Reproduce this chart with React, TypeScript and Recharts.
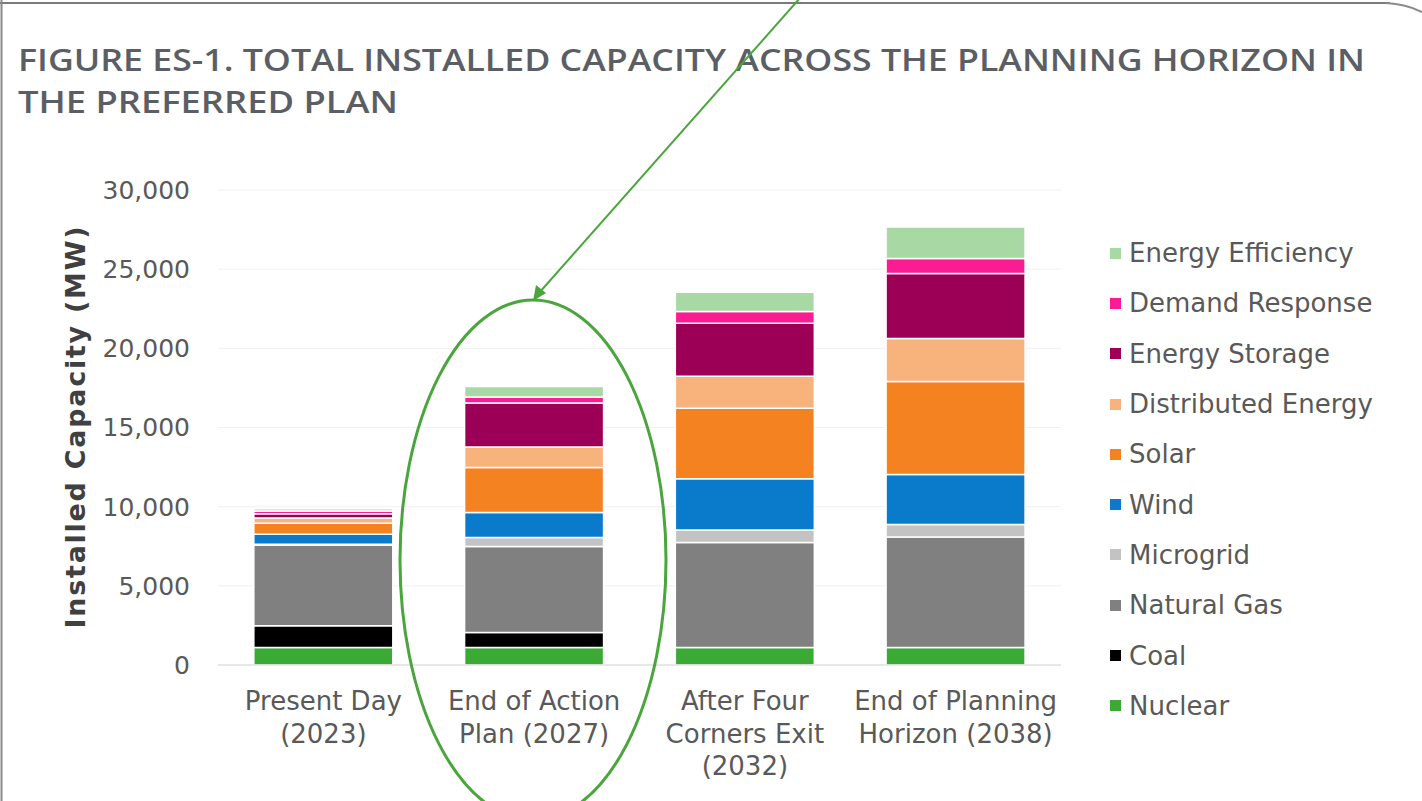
import React from "react";
import {
  Bar,
  BarChart,
  CartesianGrid,
  Legend,
  XAxis,
  YAxis
} from "recharts";

// periods on the x axis and how their labels wrap
const categories = [
  "Present Day (2023)",
  "End of Action Plan (2027)",
  "After Four Corners Exit (2032)",
  "End of Planning Horizon (2038)"
];
const categoryLines = [
  ["Present Day", "(2023)"],
  ["End of Action", "Plan (2027)"],
  ["After Four", "Corners Exit", "(2032)"],
  ["End of Planning", "Horizon (2038)"]
];

// installed capacity in MW
const nuclear = [1100, 1100, 1100, 1100];
const coal = [1380, 950, 0, 0];
const naturalGas = [5100, 5430, 6630, 6980];
const microgrid = [50, 570, 790, 790];
const wind = [630, 1580, 3250, 3160];
const solar = [700, 2840, 4450, 5870];
const distributedEnergy = [330, 1300, 2020, 2720];
const energyStorage = [260, 2780, 3350, 4110];
const demandResponse = [180, 380, 730, 950];
const energyEfficiency = [140, 660, 1230, 1990];

const yTicks = [0, 5000, 10000, 15000, 20000, 25000, 30000];

const series = [
  { key: "nuclear", name: "Nuclear", color: "#3aaa35", values: nuclear },
  { key: "coal", name: "Coal", color: "#000000", values: coal },
  { key: "gas", name: "Natural Gas", color: "#808080", values: naturalGas },
  { key: "microgrid", name: "Microgrid", color: "#c3c3c3", values: microgrid },
  { key: "wind", name: "Wind", color: "#0a7bcb", values: wind },
  { key: "solar", name: "Solar", color: "#f58220", values: solar },
  { key: "distributed", name: "Distributed Energy", color: "#f8b27c", values: distributedEnergy },
  { key: "storage", name: "Energy Storage", color: "#9c0056", values: energyStorage },
  { key: "dr", name: "Demand Response", color: "#fb1c93", values: demandResponse },
  { key: "ee", name: "Energy Efficiency", color: "#a8d9a4", values: energyEfficiency }
];

const data = categories.map((name, i) => {
  const row: { [key: string]: any } = { name };
  series.forEach((s) => {
    row[s.key] = s.values[i];
  });
  return row;
});

const textColor = "#595959";
const font = "'DejaVu Sans', Verdana, sans-serif";

function CategoryTick({ x, y, index }: any) {
  const lines = categoryLines[index] || [];
  return (
    <text
      x={x}
      y={y + 45}
      textAnchor="middle"
      fill={textColor}
      fontSize={26}
      fontFamily={font}
    >
      {lines.map((line, i) => (
        <tspan key={i} x={x} dy={i === 0 ? 0 : 32.5}>
          {line}
        </tspan>
      ))}
    </text>
  );
}

function AxisTitle({ viewBox }: any) {
  const cx = viewBox.x + 75;
  const cy = viewBox.y + viewBox.height / 2;
  return (
    <text
      x={cx}
      y={cy}
      transform={`rotate(-90, ${cx}, ${cy})`}
      textAnchor="middle"
      dominantBaseline="central"
      fill="#404040"
      fontSize={27}
      fontWeight="bold"
      fontFamily={font}
      textLength={402}
      lengthAdjust="spacing"
    >
      Installed Capacity (MW)
    </text>
  );
}

function LegendList() {
  return (
    <div style={{ fontFamily: font, fontSize: 26, color: textColor }}>
      {[...series].reverse().map((s) => (
        <div
          key={s.key}
          style={{ height: 50.3, display: "flex", alignItems: "center", whiteSpace: "nowrap" }}
        >
          <span
            style={{
              display: "inline-block",
              width: 11,
              height: 11,
              background: s.color,
              marginRight: 8
            }}
          />
          {s.name}
        </div>
      ))}
    </div>
  );
}

export default function App() {
  return (
    <div
      style={{
        position: "absolute",
        left: 0,
        top: 0,
        width: 1422,
        height: 801,
        background: "#ffffff",
        overflow: "hidden"
      }}
    >
      <BarChart
        width={1422}
        height={801}
        data={data}
        margin={{ top: 190, right: 361, left: 0, bottom: 0 }}
        barCategoryGap="17%"
      >
        <CartesianGrid vertical={false} stroke="#f1f1f1" />
        <XAxis
          dataKey="name"
          height={136}
          tickLine={false}
          axisLine={{ stroke: "#d6d6d6" }}
          tickSize={0}
          tickMargin={0}
          interval={0}
          tick={<CategoryTick />}
        />
        <YAxis
          width={218}
          domain={[0, 30000]}
          ticks={yTicks}
          tickLine={false}
          axisLine={false}
          tickSize={0}
          tickMargin={28}
          tickFormatter={(v) => v.toLocaleString("en-US")}
          tick={{ fill: textColor, fontSize: 25, fontFamily: font }}
          label={<AxisTitle />}
        />
        <Legend
          layout="vertical"
          align="center"
          verticalAlign="middle"
          content={<LegendList />}
          wrapperStyle={{ left: 1110, top: 228, width: 310 }}
        />
        {series.map((s) => (
          <Bar
            key={s.key}
            dataKey={s.key}
            name={s.name}
            stackId="cap"
            fill={s.color}
            stroke="#ffffff"
            strokeWidth={1.5}
            isAnimationActive={false}
          />
        ))}
      </BarChart>

      {/* page frame, title and the green annotation drawn over the figure */}
      <svg
        width={1422}
        height={801}
        style={{ position: "absolute", left: 0, top: 0, pointerEvents: "none" }}
      >
        <line x1={0} y1={3} x2={1390} y2={3} stroke="#7a7a7a" strokeWidth={2} />
        <path d="M1386 3 Q1406 4 1422 12" fill="none" stroke="#8a8a8a" strokeWidth={2} />
        <line x1={1.5} y1={0} x2={1.5} y2={801} stroke="#8a8a8a" strokeWidth={2} />
        <text
          x={18}
          y={71}
          fill="#5b5f65"
          fontSize={30}
          fontWeight={600}
          fontFamily="'Open Sans', sans-serif"
          textLength={1347}
          lengthAdjust="spacingAndGlyphs"
        >
          FIGURE ES-1. TOTAL INSTALLED CAPACITY ACROSS THE PLANNING HORIZON IN
        </text>
        <text
          x={18}
          y={113}
          fill="#5b5f65"
          fontSize={30}
          fontWeight={600}
          fontFamily="'Open Sans', sans-serif"
          textLength={380}
          lengthAdjust="spacingAndGlyphs"
        >
          THE PREFERRED PLAN
        </text>
        <line x1={800} y1={-2} x2={539} y2={293} stroke="#4aa63c" strokeWidth={2} />
        <polygon points="533,301 536,285 546,293" fill="#4aa63c" />
        <ellipse cx={533} cy={560} rx={133} ry={260} fill="none" stroke="#4aa63c" strokeWidth={3} />
      </svg>
    </div>
  );
}
